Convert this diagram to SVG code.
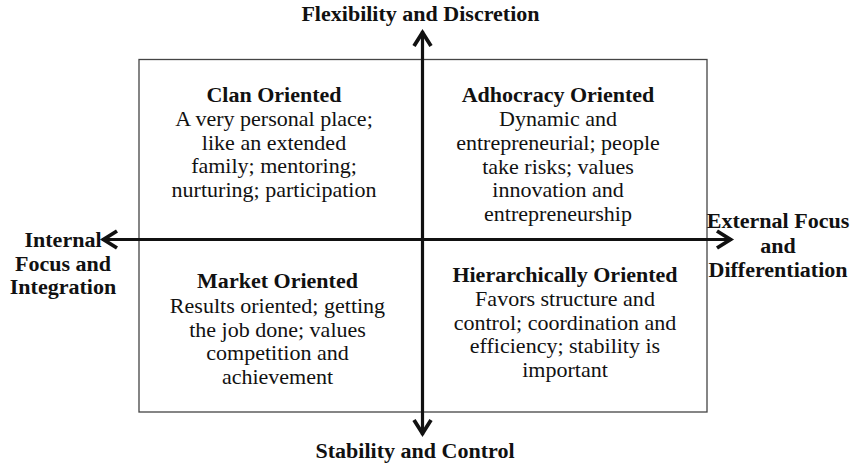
<svg xmlns="http://www.w3.org/2000/svg" width="853" height="467" viewBox="0 0 853 467">
<style>
text{font-family:"Liberation Serif","Times New Roman",serif;font-size:20.5px;fill:#111;text-anchor:middle}
.b{font-weight:bold}
.axis{stroke:#111;stroke-width:3.2;fill:none}
.frame{fill:none;stroke:#444;stroke-width:1.3}
</style>
<defs>
<marker id="chev" markerUnits="userSpaceOnUse" markerWidth="30" markerHeight="30" refX="0" refY="0" orient="auto-start-reverse" overflow="visible" viewBox="-20 -15 30 30">
<path d="M-15,-8.5 L-1.5,0 L-15,8.5" fill="none" stroke="#111" stroke-width="3.8" stroke-linejoin="miter" stroke-linecap="butt"/>
</marker>
</defs>
<rect id="frame" class="frame" x="139" y="59.5" width="568" height="352.5"/>
<g id="connectors">
<line class="axis" x1="422.5" y1="31" x2="422.5" y2="435" marker-start="url(#chev)" marker-end="url(#chev)"/>
<line class="axis" x1="102" y1="239.5" x2="732" y2="239.5" marker-start="url(#chev)" marker-end="url(#chev)"/>
</g>
<g id="top-label" transform="translate(420.5 0) scale(1.075 1)"><text class="b" x="0" y="21">Flexibility and Discretion</text></g>
<g id="bottom-label" transform="translate(415 0) scale(1.075 1)"><text class="b" x="0" y="458">Stability and Control</text></g>
<g id="left-label" transform="translate(63 0) scale(1.075 1)">
<text class="b" x="0" y="247">Internal</text>
<text class="b" x="0" y="271">Focus and</text>
<text class="b" x="0" y="294">Integration</text>
</g>
<g id="right-label" transform="translate(778 0) scale(1.075 1)">
<text class="b" x="0" y="228">External Focus</text>
<text class="b" x="0" y="253">and</text>
<text class="b" x="0" y="277">Differentiation</text>
</g>
<g id="clan" transform="translate(274 0) scale(1.075 1)">
<text class="b" x="0" y="102">Clan Oriented</text>
<text x="0" y="126">A very personal place;</text>
<text x="0" y="150">like an extended</text>
<text x="0" y="173">family; mentoring;</text>
<text x="0" y="197">nurturing; participation</text>
</g>
<g id="adhocracy" transform="translate(558 0) scale(1.075 1)">
<text class="b" x="0" y="102">Adhocracy Oriented</text>
<text x="0" y="126">Dynamic and</text>
<text x="0" y="150">entrepreneurial; people</text>
<text x="0" y="174">take risks; values</text>
<text x="0" y="197">innovation and</text>
<text x="0" y="221">entrepreneurship</text>
</g>
<g id="market" transform="translate(277.5 0) scale(1.075 1)">
<text class="b" x="0" y="288">Market Oriented</text>
<text x="0" y="313">Results oriented; getting</text>
<text x="0" y="337">the job done; values</text>
<text x="0" y="360">competition and</text>
<text x="0" y="384">achievement</text>
</g>
<g id="hierarchy" transform="translate(565 0) scale(1.075 1)">
<text class="b" x="0" y="282">Hierarchically Oriented</text>
<text x="0" y="306">Favors structure and</text>
<text x="0" y="330">control; coordination and</text>
<text x="0" y="353">efficiency; stability is</text>
<text x="0" y="377">important</text>
</g>
</svg>
